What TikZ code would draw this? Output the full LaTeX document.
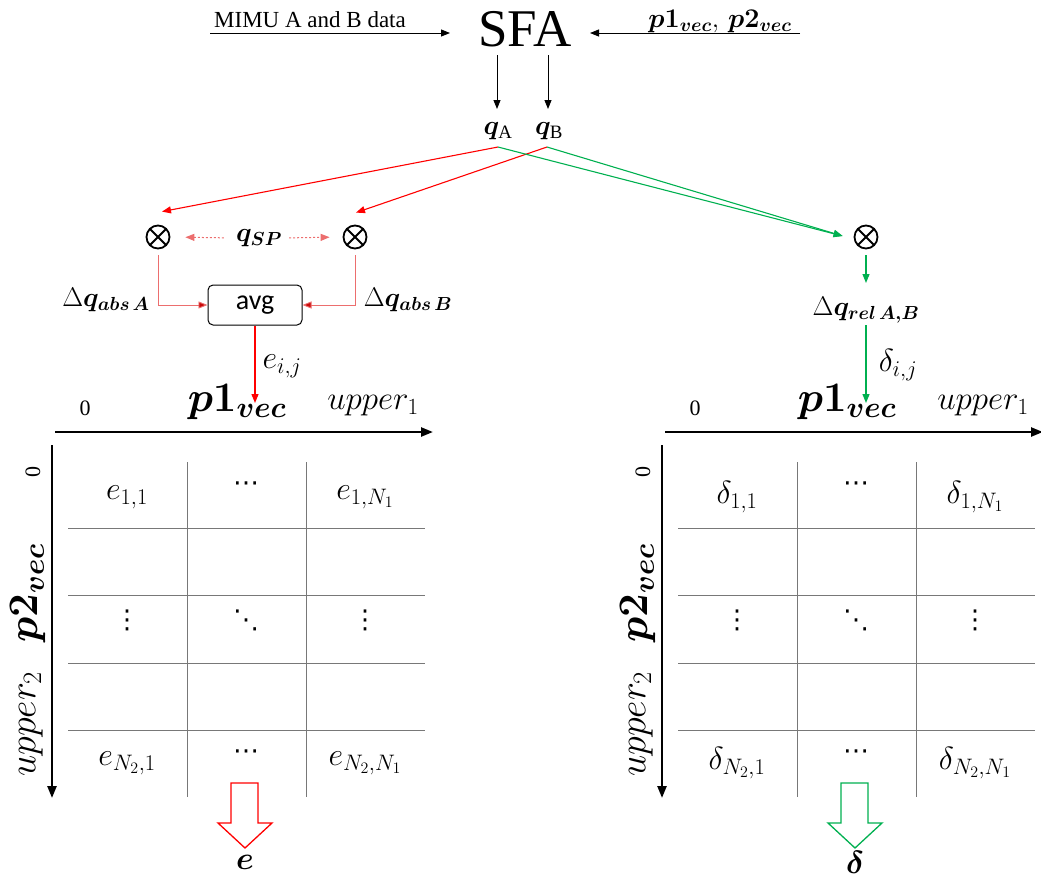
\RequirePackage{fix-cm}
\documentclass[tikz,border=0pt]{standalone}
\usepackage{amsmath}
\usepackage{bm}
\usepackage{fontspec}
\setmainfont{Liberation Serif}
\newfontfamily\avgfont{Carlito}
\newfontfamily\dotfont{DejaVu Sans}
\usetikzlibrary{arrows.meta}

\definecolor{qred}{RGB}{255,0,0}
\definecolor{qgreen}{RGB}{0,176,80}
\definecolor{pinkred}{RGB}{236,110,110}
\definecolor{tipred}{RGB}{200,10,10}
\definecolor{gridgray}{RGB}{120,120,120}

\tikzset{
  arr/.style={-{Triangle[length=9pt,width=7pt]}, line width=1.1pt},
  txt/.style={inner sep=0pt, font=\fontsize{23}{26}\selectfont},
  qlbl/.style={inner sep=0pt, font=\fontsize{27}{30}\selectfont},
  sml/.style={inner sep=0pt, font=\fontsize{27}{30}\selectfont},
  mult/.style={circle, draw, line width=1.8pt, minimum size=23pt, inner sep=0pt,
    path picture={\draw[line width=1.8pt]
      (path picture bounding box.north west) -- (path picture bounding box.south east)
      (path picture bounding box.south west) -- (path picture bounding box.north east);}},
  axis/.style={line width=2.4pt, -{Triangle[length=12pt,width=9pt]}},
  axlbl/.style={inner sep=0pt, font=\fontsize{22}{26}\selectfont},
  axup/.style={inner sep=0pt, font=\fontsize{33}{36}\selectfont},
  axupv/.style={inner sep=0pt, font=\fontsize{38}{40}\selectfont},
  axbig/.style={inner sep=0pt, font=\fontsize{42}{46}\selectfont},
  cell/.style={inner sep=0pt, font=\fontsize{32}{36}\selectfont},
  dots/.style={inner sep=0pt, font=\dotfont\fontsize{26}{28}\selectfont},
  gridline/.style={gridgray, line width=0.9pt},
  hollow/.style={line width=1.3pt, fill=white}
}

% result table with its two axes; #1 shift, #2 entry symbol, #3 name suffix, #4 colour
\newcommand\matgrid[4]{%
\begin{scope}[xshift=#1]
  \coordinate (hxa#3) at (55,432);
  \coordinate (hxb#3) at (433,432);
  \draw[axis] (hxa#3) -- (hxb#3);
  \coordinate (vya#3) at (52,445);
  \coordinate (vyb#3) at (52,798);
  \draw[axis] (vya#3) -- (vyb#3);
  \node[axlbl] (za#3) at (85,408) {0};
  \node[axbig] (pa#3) at (237,402) {$\bm{p1_{vec}}$};
  \node[axup] (ua#3) at (373,406) {$upper_1$};
  \node[axlbl, rotate=90] (zb#3) at (33,472) {0};
  \node[axbig, rotate=90] (pb#3) at (28,593) {$\bm{p2_{vec}}$};
  \node[axupv, rotate=90] (ub#3) at (31,724) {$upper_2$};
  \foreach \gx in {187,306} \draw[gridline] (\gx,462) -- (\gx,797);
  \foreach \gy in {528,595,663,730} \draw[gridline] (68,\gy) -- (425,\gy);
  \node[cell] (caa#3) at (127,497) {$#2_{1,1}$};
  \node[dots] (cab#3) at (246,487) {⋯};
  \node[cell] (cac#3) at (365,497) {$#2_{1,N_1}$};
  \node[dots] (cca#3) at (127,620) {⋮};
  \node[dots] (ccb#3) at (246,620) {⋱};
  \node[dots] (ccc#3) at (365,620) {⋮};
  \node[cell] (cea#3) at (127,763) {$#2_{N_2,1}$};
  \node[dots] (ceb#3) at (246,755) {⋯};
  \node[cell] (cec#3) at (365,763) {$#2_{N_2,N_1}$};
  \draw[hollow, draw=#4] (231,783) -- (258,783) -- (258,823) -- (272,823)
     -- (245,848) -- (218,823) -- (231,823) -- cycle;
  \node[inner sep=0pt, font=\fontsize{32}{34}\selectfont] (res#3) at (245,862) {$\bm{#2}$};
\end{scope}}

\begin{document}
\begin{tikzpicture}[x=1pt,y=-1pt]
\useasboundingbox (0,0) rectangle (1041,879);

% sensor fusion block and its inputs
\node[inner sep=0pt, font=\fontsize{53}{56}\selectfont, anchor=base] (sfa) at (525,46) {SFA};
\node[txt, anchor=base] (mimu) at (310,27) {MIMU A and B data};
\node[qlbl, anchor=base] (pin) at (720,27) {$\bm{p1_{vec}},\,\bm{p2_{vec}}$};
\coordinate (mimuL) at (210,33);
\coordinate (mimuR) at (450,33);
\coordinate (pinR) at (800,33);
\coordinate (pinL) at (590,33);
\draw[arr, line width=0.9pt] (mimuL) -- (mimuR);
\draw[arr, line width=0.9pt] (pinR) -- (pinL);

% quaternion outputs
\node[qlbl] (qa) at (498,131) {$\bm{q}_{\mathrm{A}}$};
\node[qlbl] (qb) at (549,131) {$\bm{q}_{\mathrm{B}}$};
\coordinate (sfaA) at (497,55);
\coordinate (sfaB) at (548,55);
\draw[arr, line width=0.9pt] (sfaA) -- (497,109);
\draw[arr, line width=0.9pt] (sfaB) -- (548,109);
\coordinate (qaS) at (498,147);
\coordinate (qbS) at (547,147);

% products
\node[mult] (ma) at (158,237) {};
\node[mult] (mb) at (355,237) {};
\node[mult] (mc) at (866,237) {};

\draw[arr, qred] (qaS) -- ([xshift=4pt,yshift=13pt]ma.north);
\draw[arr, qred] (qbS) -- ([xshift=1pt,yshift=12pt]mb.north);
\draw[arr, qgreen] (qaS) -- ([xshift=-11pt,yshift=1pt]mc.west);
\draw[arr, qgreen] (qbS) -- ([xshift=-11pt,yshift=1pt]mc.west);

% sensor-to-segment quaternion
\node[qlbl] (qsp) at (259,238) {$\bm{q_{SP}}$};
\draw[arr, pinkred, line width=1pt, dash pattern=on 2pt off 2pt, shorten <=12pt, shorten >=15pt] (qsp.west) -- (ma.east);
\draw[arr, pinkred, line width=1pt, dash pattern=on 2pt off 2pt, shorten <=7pt, shorten >=13pt] (qsp.east) -- (mb.west);

% averaging of the absolute differences
\node[draw, rounded corners=5pt, line width=1pt, minimum width=94pt, minimum height=40pt,
      inner sep=0pt, font=\avgfont\fontsize{28}{30}\selectfont] (avg) at (255,305) {avg};
\draw[pinkred, line width=0.9pt, -{Triangle[length=9pt,width=7pt,fill=tipred]}, shorten <=6pt] (ma.south) |- (avg.west);
\draw[pinkred, line width=0.9pt, -{Triangle[length=9pt,width=7pt,fill=tipred]}, shorten <=6pt] (mb.south) |- (avg.east);
\node[sml] (dqa) at (106,300) {$\Delta\bm{q}_{\bm{abs}\,\bm{A}}$};
\node[sml] (dqb) at (408,300) {$\Delta\bm{q}_{\bm{abs}\,\bm{B}}$};
\coordinate (eEnd) at (255,403);
\draw[arr, qred, line width=1.3pt] (avg.south) -- (eEnd);
\node[cell] (eij) at (282,366) {$e_{i,j}$};

% relative difference
\node[sml] (dqr) at (866,310) {$\Delta\bm{q}_{\bm{rel}\,\bm{A,B}}$};
\draw[arr, qgreen, shorten <=6pt] (mc.south) -- (866,283);
\coordinate (dEnd) at (866,403);
\draw[arr, qgreen, line width=1.3pt] (866,325) -- (dEnd);
\node[cell] (dij) at (898,365) {$\delta_{i,j}$};

% result tables
\matgrid{0pt}{e}{L}{qred}
\matgrid{610pt}{\delta}{R}{qgreen}
\end{tikzpicture}
\end{document}
